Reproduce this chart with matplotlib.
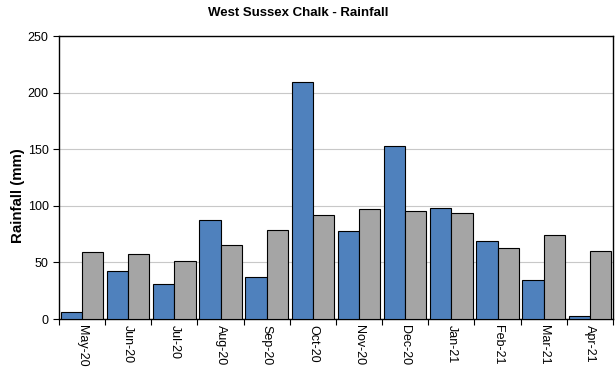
import matplotlib.pyplot as plt
import numpy as np

plt.rcParams['font.family'] = ['Liberation Sans', 'DejaVu Sans']

months = ['May-20', 'Jun-20', 'Jul-20', 'Aug-20', 'Sep-20', 'Oct-20',
          'Nov-20', 'Dec-20', 'Jan-21', 'Feb-21', 'Mar-21', 'Apr-21']
rain_actual = [6, 42, 31, 87.5, 37, 209, 78, 153, 98, 69, 34.5, 3]
rain_average = [59.5, 57.5, 51, 65, 79, 92, 97, 95.5, 93.5, 62.5, 74, 60]


def main():
    fig = plt.figure(figsize=(6.16, 3.69), dpi=100)
    ax = fig.add_axes([0.0958, 0.1355, 0.8992, 0.7669])

    x = np.arange(len(months))
    w = 0.46
    ax.bar(x + 0.5 - w, rain_actual, width=w, align='edge', color='#4F81BD',
           edgecolor='black', linewidth=0.8, zorder=3)
    ax.bar(x + 0.5, rain_average, width=w, align='edge', color='#A5A5A5',
           edgecolor='black', linewidth=0.8, zorder=3)

    ax.set_xlim(0, len(months))
    ax.set_ylim(0, 250)
    ax.set_yticks(range(0, 251, 50))
    ax.yaxis.grid(True, color='#C8C8C8', linewidth=0.8, zorder=0)

    # boundary ticks, labels in the middle of each month
    ax.set_xticks(np.arange(len(months) + 1))
    ax.set_xticklabels([])
    ax.set_xticks(x + 0.5, minor=True)
    ax.set_xticklabels(months, minor=True, rotation=-90, fontsize=9)
    ax.tick_params(axis='x', which='minor', length=0, pad=4)
    ax.tick_params(axis='x', which='major', length=4, direction='out')
    ax.tick_params(axis='y', labelsize=9, length=4, direction='out')

    for s in ax.spines.values():
        s.set_linewidth(1.0)
        s.set_color('black')

    fig.text(18 / 616, 1 - 196 / 369, 'Rainfall (mm)', rotation=90,
             fontsize=10.8, fontweight='bold', ha='center', va='center')
    fig.text(298 / 616, 1 - 13 / 369, 'West Sussex Chalk - Rainfall',
             fontsize=9.5, fontweight='bold', ha='center', va='center')

    fig.savefig('out.png', dpi=100)


main()
